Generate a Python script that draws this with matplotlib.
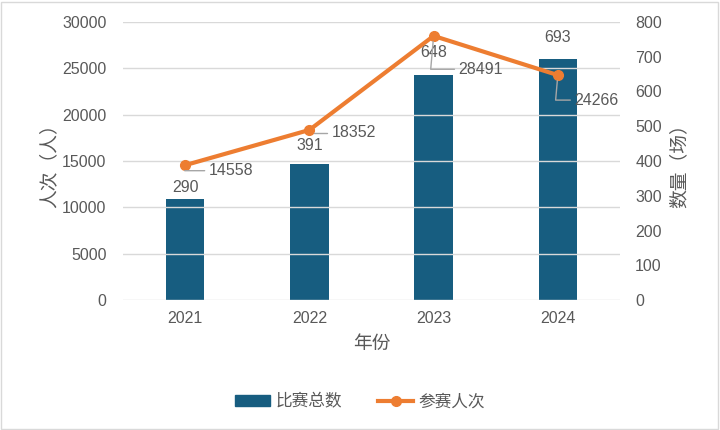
import matplotlib
matplotlib.use("Agg")
import matplotlib.pyplot as plt
from matplotlib.patches import Rectangle
from matplotlib.lines import Line2D
import numpy as np

plt.rcParams["font.family"] = ["Liberation Sans", "Noto Sans CJK SC"]

years = ["2021", "2022", "2023", "2024"]
matches = [290, 391, 648, 693]            # 比赛总数 (right axis)
participants = [14558, 18352, 28491, 24266]  # 参赛人次 (left axis)

# label offsets in points (layout only)
bar_lab_off = [3, 8, 11, 10]
line_lab_off = [(17, -4), (16, -2), (18, -24), (12, -18)]

BAR = "#175d80"
LINE = "#ed7d31"
TXT = "#595959"
GRID = "#d9d9d9"
FS = 11.5

fig = plt.figure(figsize=(7.2, 4.3), dpi=100)
ax = fig.add_axes([0.171, 0.302, 0.690, 0.647])
ax2 = ax.twinx()

x = np.arange(len(years))

# bars on right axis, drawn below line
ax2.bar(x, matches, width=0.31, color=BAR, zorder=2)
ax2.set_ylim(0, 800)
ax2.set_yticks(range(0, 801, 100))
for xi, v, off in zip(x, matches, bar_lab_off):
    ax2.annotate(str(v), (xi, v), xytext=(0, off), textcoords="offset points",
                 ha="center", va="bottom", fontsize=FS, color=TXT)

ax.set_ylim(0, 30000)
ax.set_yticks(range(0, 30001, 5000))
ax.set_xlim(-0.5, 3.5)
ax.set_xticks(x)
ax.set_xticklabels(years)
ax.yaxis.grid(True, color=GRID, lw=1)
ax.set_axisbelow(True)

# line must be above bars -> put on top axes
ax.set_zorder(ax2.get_zorder() + 1)
ax.patch.set_visible(False)
ax.plot(x, participants, color=LINE, lw=3, marker="o", ms=7, zorder=5)
for xi, v, (dx, dy) in zip(x, participants, line_lab_off):
    ax.annotate(str(v), (xi, v), xytext=(dx, dy), textcoords="offset points",
                ha="left", va="center", fontsize=FS, color=TXT, zorder=6,
                arrowprops=dict(arrowstyle="-", color="#a6a6a6", lw=1,
                                shrinkA=1, shrinkB=4,
                                connectionstyle="angle,angleA=0,angleB=85,rad=0"))

for a in (ax, ax2):
    for s in a.spines.values():
        s.set_visible(False)
    a.tick_params(length=0, colors=TXT, labelsize=FS)
ax.tick_params(axis="x", pad=8)
ax.tick_params(axis="y", pad=12)
ax2.tick_params(axis="y", pad=11)

ax.set_xlabel("年份", fontsize=13.5, color=TXT, labelpad=7)
ax.set_ylabel("人次（人）", fontsize=13.5, color=TXT, labelpad=3)
ax2.set_ylabel("数量（场）", fontsize=13.5, color=TXT, rotation=90, labelpad=6)

handles = [Rectangle((0, 0), 1, 1, color=BAR),
           Line2D([0], [0], color=LINE, lw=3, marker="o", ms=7)]
fig.legend(handles, ["比赛总数", "参赛人次"], loc="center", bbox_to_anchor=(0.5, 0.067),
           ncol=2, frameon=False, fontsize=12, labelcolor=TXT,
           handlelength=2.1, handleheight=0.6, handletextpad=0.3, columnspacing=2.2)

fig.patches.append(Rectangle((0.002, 0.003), 0.995, 0.993, transform=fig.transFigure,
                             fill=False, edgecolor="#d9d9d9", lw=1))

fig.savefig("out.png", dpi=100)
